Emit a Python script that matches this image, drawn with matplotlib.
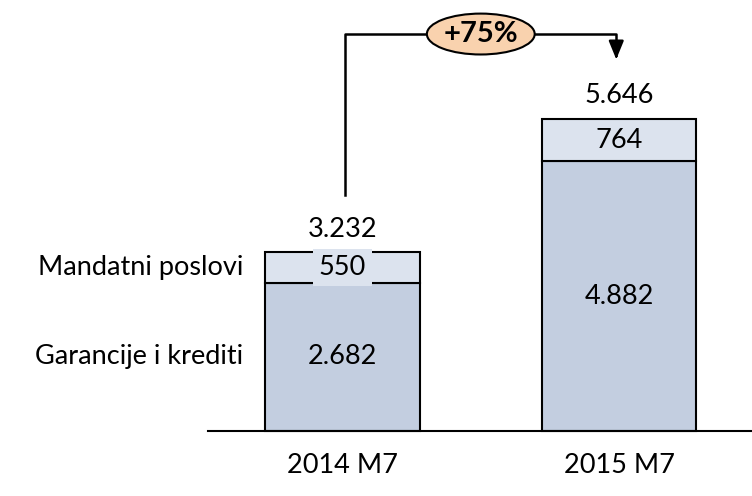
import matplotlib.pyplot as plt
from matplotlib.patches import Ellipse

categories = ["2014 M7", "2015 M7"]
garancije = [2682, 4882]
mandatni = [550, 764]
totals = [3232, 5646]
series_names = ["Garancije i krediti", "Mandatni poslovi"]
growth_label = "+75%"

col_bottom = "#c3cee0"
col_top = "#dce3ee"

plt.rcParams['font.family'] = ['Lato', 'DejaVu Sans']

fig = plt.figure(figsize=(7.52, 4.96), dpi=100)
ax = fig.add_axes([0, 0, 1, 1])
ax.set_xlim(-1.239, 1.481)
ax.set_ylim(-1176, 7800)
ax.axis("off")

x = [0, 1]
w = 0.56
ax.bar(x, garancije, width=w, color=col_bottom, edgecolor="black", linewidth=1.5, zorder=2)
ax.bar(x, mandatni, width=w, bottom=garancije, color=col_top, edgecolor="black", linewidth=1.5, zorder=2)
ax.plot([-0.486, 1.6], [0, 0], color="black", lw=1.5, zorder=3)

fs = 19.5
for i in x:
    ax.text(i, garancije[i] / 2, f"{garancije[i]:,}".replace(",", "."), ha="center", va="center", fontsize=fs, zorder=4)
    bb = dict(facecolor=col_top, edgecolor="none", pad=4) if i == 0 else None
    ax.text(i, garancije[i] + mandatni[i] / 2, f"{mandatni[i]:,}".replace(",", "."), ha="center", va="center",
            fontsize=fs, zorder=4, bbox=bb)
    ax.text(i, totals[i] + 420, f"{totals[i]:,}".replace(",", "."), ha="center", va="center", fontsize=fs, zorder=4)
    ax.text(i, -620, categories[i], ha="center", va="center", fontsize=fs)

ax.text(-0.36, garancije[0] / 2, series_names[0], ha="right", va="center", fontsize=fs)
ax.text(-0.36, garancije[0] + mandatni[0] / 2, series_names[1], ha="right", va="center", fontsize=fs)

# growth arrow
ytop = 7184
ax.plot([0.01, 0.01, 0.99, 0.99], [totals[0] + 1040, ytop, ytop, ytop - 250], color="black", lw=1.8, zorder=3)
ax.annotate("", xy=(0.99, totals[1] + 1030), xytext=(0.99, ytop - 300),
            arrowprops=dict(arrowstyle="-|>,head_length=1.1,head_width=0.45", color="black", lw=1.8))
ax.add_patch(Ellipse((0.5, ytop), 0.39, 740, facecolor="#f9d2ae", edgecolor="black", lw=1.5, zorder=4))
ax.text(0.5, ytop, growth_label, ha="center", va="center", fontsize=21, fontweight="bold", zorder=5)

fig.savefig("out.png", dpi=100)
